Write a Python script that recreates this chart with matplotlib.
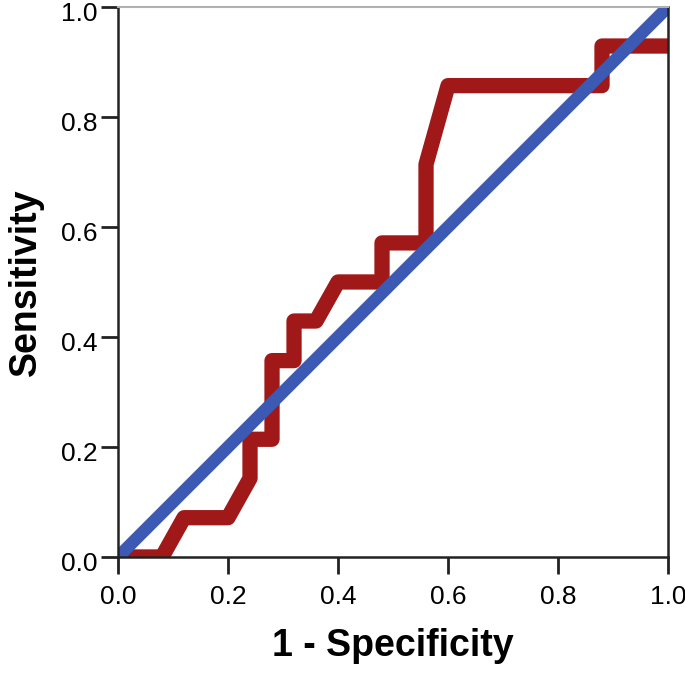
import matplotlib
matplotlib.use("Agg")
import matplotlib.pyplot as plt
import matplotlib.transforms as mtransforms

# ROC curve points
fpr = [0.0, 0.08, 0.12, 0.20, 0.24, 0.24, 0.28, 0.28, 0.32, 0.32, 0.36, 0.40,
       0.48, 0.48, 0.56, 0.56, 0.60, 0.88, 0.88, 1.0]
tpr = [0.0, 0.0, 0.0714, 0.0714, 0.143, 0.214, 0.214, 0.357, 0.357, 0.429, 0.429, 0.5,
       0.5, 0.571, 0.571, 0.714, 0.857, 0.857, 0.929, 0.929]
ref_x = [0.0, 1.0]
ref_y = [0.0, 1.0]
ticks = [0.0, 0.2, 0.4, 0.6, 0.8, 1.0]

plt.rcParams['font.family'] = ['Liberation Sans', 'DejaVu Sans']

fig = plt.figure(figsize=(6.85, 6.77), dpi=100)
ax = fig.add_axes([0.1723, 0.1773, 0.8029, 0.8124])

ax.plot(fpr, tpr, color='#a01818', lw=11, solid_joinstyle='round', solid_capstyle='butt')
ax.plot(ref_x, ref_y, color='#3c5ab4', lw=9, solid_capstyle='butt')

ax.set_xlim(0, 1)
ax.set_ylim(0, 1)
ax.set_xticks(ticks)
ax.set_yticks(ticks)
ax.set_xticklabels(["{:.1f}".format(t) for t in ticks])
ax.set_yticklabels(["{:.1f}".format(t) for t in ticks])
ax.tick_params(direction='out', length=12, width=2, labelsize=19, color='#222222')
ax.tick_params(axis='x', pad=8)
ax.tick_params(axis='y', pad=3)

# y tick labels sit a little below their ticks in the original
shift = mtransforms.ScaledTranslation(0, -5 / 100, fig.dpi_scale_trans)
for lab in ax.get_yticklabels():
    lab.set_transform(lab.get_transform() + shift)

for side in ['left', 'bottom', 'right']:
    ax.spines[side].set_color('#222222')
    ax.spines[side].set_linewidth(1.8)
ax.spines['top'].set_color('#b0b0b0')
ax.spines['top'].set_linewidth(1.5)

ax.set_xlabel("1 - Specificity", fontsize=27, fontweight='bold', labelpad=14)
ax.set_ylabel("Sensitivity", fontsize=27, fontweight='bold', labelpad=12)

fig.savefig("out.png", dpi=100)
plt.close(fig)
